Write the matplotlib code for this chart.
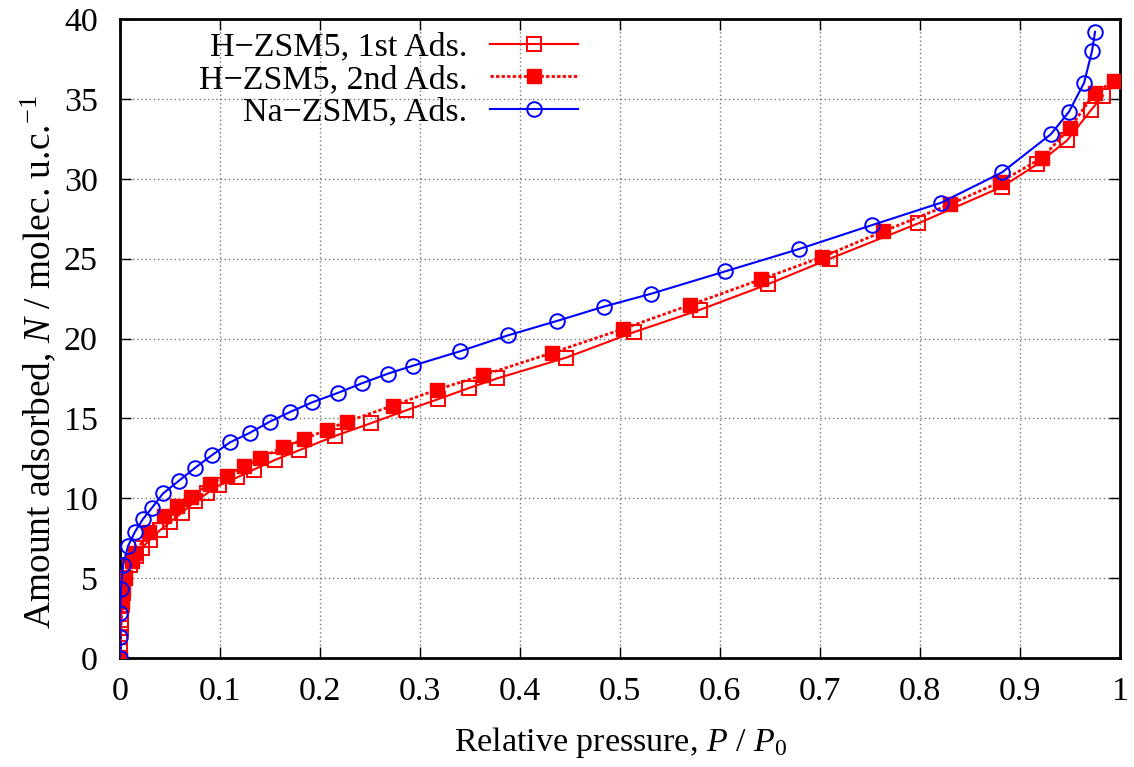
import numpy as np
import matplotlib
matplotlib.use("Agg")
import matplotlib.pyplot as plt

plt.rcParams['font.family'] = ['Liberation Serif', 'DejaVu Serif']
plt.rcParams['mathtext.fontset'] = 'custom'
plt.rcParams['mathtext.rm'] = 'Liberation Serif'
plt.rcParams['mathtext.it'] = 'Liberation Serif:italic'

# H-ZSM5, 1st adsorption (open squares)
p_h1 = [0.0, 0.0, 0.0, 0.001, 0.001, 0.002, 0.003, 0.005, 0.010, 0.016, 0.022, 0.030,
        0.040, 0.050, 0.062, 0.075, 0.087, 0.099, 0.117, 0.134, 0.155, 0.179, 0.215,
        0.251, 0.286, 0.318, 0.349, 0.377, 0.446, 0.514, 0.580, 0.648, 0.710, 0.798,
        0.882, 0.917, 0.947, 0.971, 0.983]
n_h1 = [0.0, 0.6, 1.3, 1.9, 2.4, 3.3, 4.1, 5.0, 5.8, 6.4, 6.9, 7.4,
        8.0, 8.5, 9.1, 9.8, 10.3, 10.8, 11.3, 11.8, 12.4, 13.0, 13.9,
        14.7, 15.5, 16.2, 16.9, 17.5, 18.8, 20.4, 21.8, 23.4, 25.0, 27.2,
        29.5, 30.9, 32.4, 34.3, 35.2]

# H-ZSM5, 2nd adsorption (filled squares)
p_h2 = [0.0, 0.002, 0.003, 0.005, 0.012, 0.015, 0.029, 0.044, 0.057, 0.071, 0.090,
        0.107, 0.124, 0.140, 0.163, 0.184, 0.207, 0.227, 0.273, 0.317, 0.363, 0.432,
        0.503, 0.570, 0.641, 0.702, 0.763, 0.830, 0.880, 0.922, 0.950, 0.975, 0.994]
n_h2 = [0.0, 3.5, 4.3, 5.0, 6.1, 6.6, 7.9, 8.9, 9.5, 10.1, 10.9,
        11.4, 12.0, 12.5, 13.2, 13.7, 14.3, 14.8, 15.8, 16.8, 17.7, 19.1,
        20.6, 22.1, 23.7, 25.1, 26.7, 28.4, 29.8, 31.3, 33.2, 35.4, 36.1]

# Na-ZSM5 adsorption (open circles)
p_na = [0.0, 0.0, 0.0, 0.001, 0.003, 0.008, 0.015, 0.023, 0.032, 0.043, 0.059, 0.075,
        0.092, 0.110, 0.130, 0.150, 0.170, 0.192, 0.218, 0.242, 0.268, 0.293, 0.340,
        0.388, 0.437, 0.484, 0.531, 0.605, 0.679, 0.752, 0.821, 0.882, 0.931, 0.949,
        0.964, 0.972, 0.975]
n_na = [0.0, 1.3, 2.8, 4.3, 5.8, 7.0, 7.9, 8.7, 9.4, 10.3, 11.1, 11.9,
        12.7, 13.5, 14.1, 14.8, 15.4, 16.0, 16.6, 17.2, 17.8, 18.3, 19.2,
        20.2, 21.1, 22.0, 22.8, 24.2, 25.6, 27.1, 28.5, 30.4, 32.8, 34.2,
        36.0, 38.0, 39.2]

fs = 24.5

fig = plt.figure(figsize=(11.34, 7.67), dpi=100)
ax = fig.add_axes([0.1058, 0.1421, 0.8819, 0.8331])

ax.plot(p_h1, n_h1, color='#ff0000', lw=1.5, marker='s', ms=10.5, mfc='none',
        mec='#ff0000', mew=1.4, label='H\u2212ZSM5, 1st Ads.', zorder=3)
ax.plot(p_h2, n_h2, color='#ff0000', lw=2.0, ls=(0, (1.2, 0.8)), marker='s', ms=10.5,
        mfc='#ff0000', mec='#ff0000', label='H\u2212ZSM5, 2nd Ads.', zorder=3)
ax.plot(p_na, n_na, color='#0000ff', lw=1.5, marker='o', ms=10.5, mfc='none',
        mec='#0000ff', mew=1.4, label='Na\u2212ZSM5, Ads.', zorder=4)

ax.set_xlim(0, 1)
ax.set_ylim(0, 40)
ax.set_xticks(np.arange(0, 1.01, 0.1))
ax.set_xticklabels(['0'] + ['%.1f' % v for v in np.arange(0.1, 0.95, 0.1)] + ['1'])
ax.set_yticks(range(0, 41, 5))
ax.grid(True, color='#777777', ls=(0, (1, 2)), lw=1.0)
ax.tick_params(direction='in', top=True, right=True, length=8, width=1.0,
               labelsize=fs)
ax.tick_params(axis='x', pad=13)
ax.tick_params(axis='y', pad=16)
for s in ax.spines.values():
    s.set_linewidth(2.0)

ax.set_xlabel('Relative pressure, $P$ / $P_0$', fontsize=fs, labelpad=13)
ax.set_ylabel('Amount adsorbed, $N$ / molec. u.c.$^{\u22121}$', fontsize=27)
ax.yaxis.set_label_coords(-0.062, 0.463)

leg = ax.legend(loc='upper right', bbox_to_anchor=(0.458, 0.98), frameon=False,
                markerfirst=False, fontsize=fs, handlelength=2.6, handletextpad=0.65,
                labelspacing=0.05, borderaxespad=0.0, borderpad=0.0)
for t in leg.get_texts():
    t.set_ha('right')

fig.savefig('out.png', dpi=100)
